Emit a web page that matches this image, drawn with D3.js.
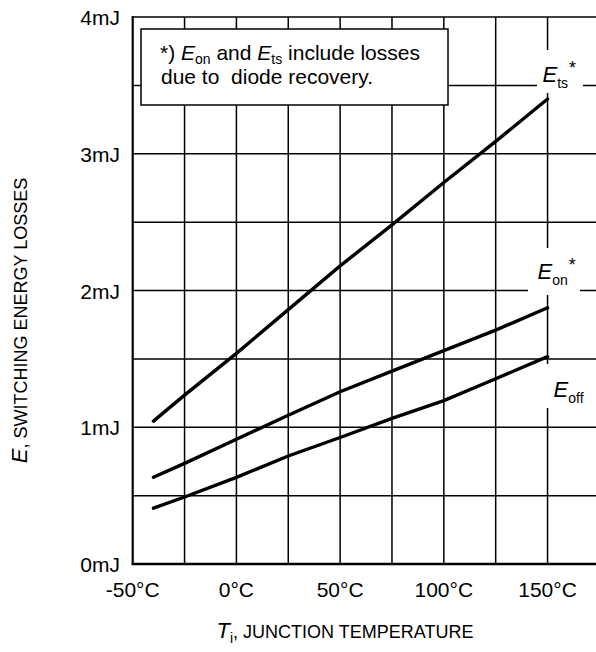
<!DOCTYPE html>
<html>
<head>
<meta charset="utf-8">
<script src="https://cdn.jsdelivr.net/npm/d3@7"></script>
<style>
  html, body { margin: 0; padding: 0; background: #fff; }
  svg { display: block; font-family: "Liberation Sans", Arial, sans-serif; }
</style>
</head>
<body>
<svg id="chart" width="596" height="652"></svg>
<script>
// data
const temps = [-40, -25, 0, 25, 50, 75, 100, 125, 150];
const ets   = [1.045, 1.235, 1.54, 1.86, 2.18, 2.48, 2.79, 3.09, 3.40];
const eon   = [0.634, 0.736, 0.912, 1.088, 1.26, 1.41, 1.56, 1.71, 1.874];
const eoff  = [0.408, 0.49, 0.634, 0.79, 0.925, 1.065, 1.195, 1.355, 1.516];
const xTicks = [-50, 0, 50, 100, 150];
const yTicks = [0, 1, 2, 3, 4];

const svg = d3.select("#chart");
const x = d3.scaleLinear().domain([-50, 175]).range([132.7, 599.4]);
const y = d3.scaleLinear().domain([0, 4]).range([564, 17]);

/* grid */
const grid = svg.append("g").attr("stroke", "#000").attr("stroke-width", 1.5);
grid.selectAll("line.v").data(d3.range(-25, 176, 25)).join("line")
  .attr("class", "v")
  .attr("x1", d => x(d)).attr("x2", d => x(d))
  .attr("y1", y(0)).attr("y2", y(4));
grid.selectAll("line.h").data(d3.range(0.5, 4.01, 0.5)).join("line")
  .attr("class", "h")
  .attr("x1", x(-50)).attr("x2", x(175))
  .attr("y1", d => y(d)).attr("y2", d => y(d));

// axis lines (left + bottom a bit heavier)
svg.append("line").attr("x1", x(-50)).attr("x2", x(-50)).attr("y1", y(0) + 1).attr("y2", y(4) - 1)
  .attr("stroke", "#000").attr("stroke-width", 2.2);
svg.append("line").attr("x1", x(-50) - 1).attr("x2", x(175)).attr("y1", y(0)).attr("y2", y(0))
  .attr("stroke", "#000").attr("stroke-width", 2.4);

/* tick labels */
svg.append("g").selectAll("text").data(xTicks).join("text")
  .attr("x", d => x(d)).attr("y", 597)
  .attr("text-anchor", "middle").attr("font-size", 21)
  .text(d => `${d}°C`);
svg.append("g").selectAll("text").data(yTicks).join("text")
  .attr("x", 120).attr("y", d => y(d) + 8)
  .attr("text-anchor", "end").attr("font-size", 21)
  .text(d => `${d}mJ`);

/* curves */
const line = d3.line().x(d => x(d[0])).y(d => y(d[1]));
[ets, eon, eoff].forEach(s => {
  svg.append("path")
    .datum(temps.map((t, i) => [t, s[i]]))
    .attr("d", line)
    .attr("fill", "none").attr("stroke", "#000").attr("stroke-width", 3.4)
    .attr("stroke-linecap", "round");
});

/* curve labels with white knockouts */
function curveLabel(cx, cy, sub, star, mask) {
  svg.append("rect").attr("x", mask[0]).attr("y", mask[1])
    .attr("width", mask[2]).attr("height", mask[3]).attr("fill", "#fff");
  const t = svg.append("text").attr("x", cx).attr("y", cy).attr("font-size", 22);
  t.append("tspan").attr("font-style", "italic").text("E");
  t.append("tspan").attr("font-size", 14).attr("dy", 6).text(sub);
  if (star) t.append("tspan").attr("font-size", 18).attr("dy", -14).attr("dx", 1).text("*");
}
curveLabel(x(150) - 5, y(3.5) - 3, "ts", true, [537, 50, 46, 43]);
curveLabel(x(150) - 10, y(2) - 12, "on", true, [528, 248, 52, 47]);
curveLabel(x(150) + 6, y(1.5) + 38, "off", false, [541, 364, 55, 44]);

/* note box */
svg.append("rect").attr("x", 141).attr("y", 29).attr("width", 307).attr("height", 76)
  .attr("fill", "#fff").attr("stroke", "#000").attr("stroke-width", 1.5);
const n1 = svg.append("text").attr("x", 160).attr("y", 60).attr("font-size", 21);
n1.append("tspan").text("*) ");
n1.append("tspan").attr("font-style", "italic").text("E");
n1.append("tspan").attr("font-size", 14).attr("dy", 4).text("on");
n1.append("tspan").attr("dy", -4).text(" and ");
n1.append("tspan").attr("font-style", "italic").text("E");
n1.append("tspan").attr("font-size", 14).attr("dy", 4).text("ts");
n1.append("tspan").attr("dy", -4).text(" include losses");
svg.append("text").attr("x", 161).attr("y", 84).attr("font-size", 21)
  .attr("xml:space", "preserve").style("white-space", "pre")
  .text("due to  diode recovery.");

/* axis titles */
const xt = svg.append("text").attr("x", 345).attr("y", 638)
  .attr("text-anchor", "middle").attr("font-size", 18);
xt.append("tspan").attr("font-style", "italic").attr("font-size", 22).text("T");
xt.append("tspan").attr("font-size", 14).attr("dy", 5).text("i");
xt.append("tspan").attr("dy", -5).text(", JUNCTION TEMPERATURE");

const yt = svg.append("text")
  .attr("transform", `translate(27,${y(2) + 30}) rotate(-90)`)
  .attr("text-anchor", "middle").attr("font-size", 18);
yt.append("tspan").attr("font-style", "italic").attr("font-size", 22).text("E");
yt.append("tspan").text(", SWITCHING ENERGY LOSSES");
</script>
</body>
</html>
